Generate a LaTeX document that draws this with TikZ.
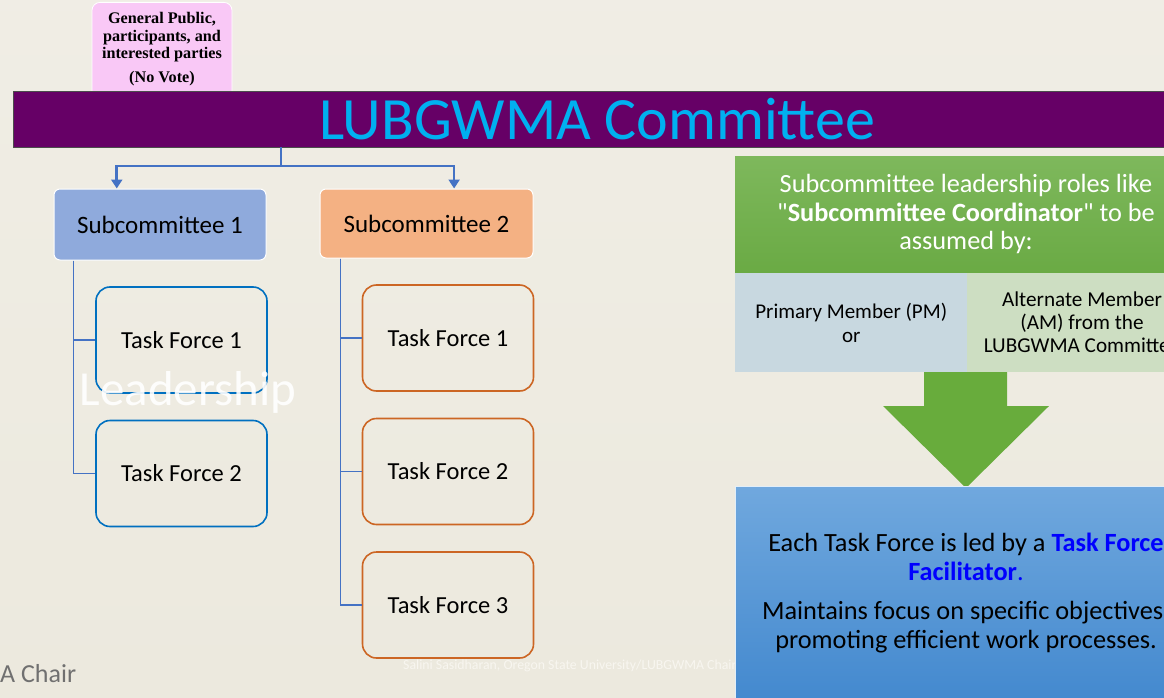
\documentclass[tikz,border=0pt]{standalone}
\usepackage{fontspec}
\setmainfont{Carlito}
\newfontfamily\qfont{Carlito}
\newfontfamily\timesf{Liberation Serif}
\usetikzlibrary{calc,arrows.meta}
\definecolor{bgc}{RGB}{236,233,222}
\definecolor{pinkc}{RGB}{249,200,246}
\definecolor{bandc}{RGB}{102,0,102}
\definecolor{titlec}{RGB}{0,176,240}
\definecolor{connc}{RGB}{68,114,196}
\definecolor{sconec}{RGB}{143,170,220}
\definecolor{sctwoc}{RGB}{244,177,131}
\definecolor{tfblue}{RGB}{0,112,192}
\definecolor{tforange}{RGB}{204,102,36}
\definecolor{greentop}{RGB}{126,184,92}
\definecolor{greenbot}{RGB}{106,170,68}
\definecolor{cellblue}{RGB}{200,216,224}
\definecolor{cellgreen}{RGB}{205,222,194}
\definecolor{arrowg}{RGB}{104,172,60}
\definecolor{bluetop}{RGB}{112,168,222}
\definecolor{bluebot}{RGB}{66,136,206}
\definecolor{linkblue}{RGB}{0,0,255}
\definecolor{chairc}{RGB}{112,112,112}
\definecolor{footc}{RGB}{248,246,240}
\tikzset{
  scbox/.style={draw=white, line width=1pt, rounded corners=6pt, inner sep=0pt,
    font=\fontsize{25}{28}\selectfont, text=black},
  tfbox/.style={draw, line width=1.6pt, rounded corners=14pt, inner sep=0pt,
    minimum width=171pt, minimum height=106pt, font=\fontsize{24.5}{28}\selectfont},
  conn/.style={draw=connc, line width=2.6pt},
  tree/.style={draw=connc, line width=1.3pt},
  cell/.style={inner sep=0pt, align=center, text=black},
}
\begin{document}
\begin{tikzpicture}[x=1pt,y=-1pt]
\useasboundingbox (0,0) rectangle (1164,698);
\clip (0,0) rectangle (1164,698);
\shade[top color=bgc!80!white, bottom color=bgc] (0,0) rectangle (1164,698);

% pink box
\node[draw=white, line width=0.8pt, fill=pinkc, rounded corners=8pt, anchor=north,
  minimum width=140pt, minimum height=100pt, inner sep=0pt] (pub) at (162,2) {};
\node[inner sep=0pt, align=center, font=\timesf\bfseries\fontsize{16.2}{17.5}\selectfont, text=black]
  (pubt) at (162,49.5) {General Public,\\participants, and\\interested parties\\[6.5pt](No Vote)};

% committee band
\node[draw=black!70, line width=0.8pt, fill=bandc, minimum width=1168pt, minimum height=56pt,
  inner sep=0pt, text=titlec, font=\fontsize{60}{66}\selectfont]
  (band) at (597,119) {LUBGWMA Committee};

% subcommittees
\node[scbox, fill=sconec, minimum width=212pt, minimum height=71pt] (sc1) at (160,224.5) {Subcommittee 1};
\node[scbox, fill=sctwoc, minimum width=213pt, minimum height=69pt] (sc2) at (426.5,223.5) {Subcommittee 2};

% connectors from band
\coordinate (j) at (281,166);
\draw[conn] (band.south -| j) -- (j);
\draw[conn, -{Triangle[width=11pt,length=9pt]}] (j) -| ($(sc1.north west)!0.297!(sc1.north east)$);
\draw[conn, -{Triangle[width=11pt,length=9pt]}] (j) -| ($(sc2.north west)!0.629!(sc2.north east)$);

% task forces
\node[tfbox, draw=tfblue] (a1) at (181.5,340) {Task Force 1};
\node[tfbox, draw=tfblue] (a2) at (181.5,473.5) {Task Force 2};
\node[tfbox, draw=tforange] (b1) at (448,338) {Task Force 1};
\node[tfbox, draw=tforange] (b2) at (448,471.5) {Task Force 2};
\node[tfbox, draw=tforange] (b3) at (448,605) {Task Force 3};

\draw[tree] ($(sc1.south west)+(20,0)$) |- (a1.west);
\draw[tree] ($(sc1.south west)+(20,0)$) |- (a2.west);
\draw[tree] ($(sc2.south west)+(21,0)$) |- (b1.west);
\draw[tree] ($(sc2.south west)+(21,0)$) |- (b2.west);
\draw[tree] ($(sc2.south west)+(21,0)$) |- (b3.west);

% watermark text
\node[text=white, opacity=0.9, font=\fontsize{49}{52}\selectfont, inner sep=0pt] (lead) at (188,392) {Leadership};
\node[text=chairc, font=\fontsize{26}{30}\selectfont, anchor=west, inner sep=0pt] (chair) at (0,674) {A Chair};
\node[text=footc, font=\fontsize{13.8}{16}\selectfont, anchor=west, inner sep=0pt] (foot) at (403,666) {Salini Sasidharan, Oregon State University/LUBGWMA Chair};

% right panel
\node[cell, top color=greentop, bottom color=greenbot, minimum width=440pt, minimum height=117pt,
  anchor=north west] (head) at (735,156) {};
\node[text=white, align=center, inner sep=0pt, font=\fontsize{26.3}{28.5}\selectfont] (headt) at (966,214)
  {Subcommittee leadership roles like\\{\qfont"}\textbf{Subcommittee Coordinator}{\qfont"} to be\\assumed by:};
\node[cell, fill=cellblue, minimum width=232pt, minimum height=99pt, anchor=north west,
  font=\fontsize{21}{24}\selectfont] (pm) at (735,273) {Primary Member (PM)\\or};
\node[cell, fill=cellgreen, minimum width=210pt, minimum height=99pt, anchor=north west] (amc) at (967,273) {};
\node[cell, font=\fontsize{21.2}{23}\selectfont] (am) at (1082,322) {Alternate Member\\(AM) from the\\LUBGWMA Committee};

\path[fill=arrowg] (924,372) -- (1007,372) -- (1007,406) -- (1049,406) -- (966,488) -- (883,406) -- (924,406) -- cycle;

\node[draw=white!80!bluetop, line width=0.8pt, top color=bluetop, bottom color=bluebot,
  minimum width=440pt, minimum height=220pt, anchor=north west, inner sep=0pt] (tfl) at (735,486) {};
\node[cell, font=\fontsize{26.3}{29}\selectfont] (tflt) at (966,593)
  {Each Task Force is led by a \textcolor{linkblue}{\textbf{Task Force}}\\\textcolor{linkblue}{\textbf{Facilitator}}\textcolor{linkblue}{.}\\[10pt]
   Maintains focus on specific objectives,\\promoting efficient work processes.};
\end{tikzpicture}
\end{document}
